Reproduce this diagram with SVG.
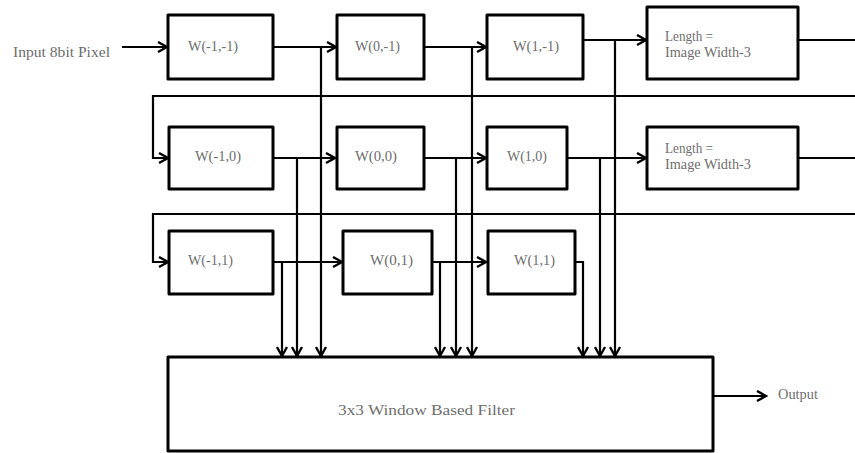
<svg xmlns="http://www.w3.org/2000/svg" width="855" height="453" viewBox="0 0 855 453">
<style>
.box{fill:#fff;stroke:#000;stroke-width:3;stroke-linejoin:round}
.ln{fill:none;stroke:#000;stroke-width:2.2}
.t{font-family:"Liberation Serif",serif;font-size:14px;fill:#6e6e6e}
</style>
<defs>
<marker id="ah" markerUnits="userSpaceOnUse" markerWidth="13" markerHeight="13" viewBox="0 0 13 13" refX="11" refY="6.5" orient="auto">
<path d="M2,1.5 L11,6.5 L2,11.5" fill="none" stroke="#000" stroke-width="2.4"/>
</marker>
</defs>
<rect width="855" height="453" fill="#fff"/>
<g id="connectors" class="ln">
<path d="M122,47 H167" marker-end="url(#ah)"/>
<path d="M273,47 H336" marker-end="url(#ah)"/>
<path d="M424,47 H486" marker-end="url(#ah)"/>
<path d="M583,40 H646" marker-end="url(#ah)"/>
<path d="M798,40 H855"/>
<path d="M855,96 H153 V158 H168" marker-end="url(#ah)"/>
<path d="M273,158 H335" marker-end="url(#ah)"/>
<path d="M424,158 H486" marker-end="url(#ah)"/>
<path d="M567,158 H646" marker-end="url(#ah)"/>
<path d="M798,158 H855"/>
<path d="M855,214 H153 V262 H168" marker-end="url(#ah)"/>
<path d="M273,262 H342" marker-end="url(#ah)"/>
<path d="M432,262 H486" marker-end="url(#ah)"/>
<path d="M321,47 V356" marker-end="url(#ah)"/>
<path d="M472,47 V356" marker-end="url(#ah)"/>
<path d="M615,40 V356" marker-end="url(#ah)"/>
<path d="M297,158 V356" marker-end="url(#ah)"/>
<path d="M456,158 V356" marker-end="url(#ah)"/>
<path d="M600,158 V356" marker-end="url(#ah)"/>
<path d="M282,262 V356" marker-end="url(#ah)"/>
<path d="M440,262 V356" marker-end="url(#ah)"/>
<path d="M575,262 H583 V356" marker-end="url(#ah)"/>
<path d="M703,396 H766" marker-end="url(#ah)"/>
</g>
<text class="t" x="13" y="57" textLength="97" lengthAdjust="spacingAndGlyphs">Input 8bit Pixel</text>
<g id="w_m1_m1"><rect class="box" x="168" y="15" width="105" height="64"/><text class="t" x="188" y="51" textLength="50" lengthAdjust="spacingAndGlyphs">W(-1,-1)</text></g>
<g id="w_0_m1"><rect class="box" x="337" y="15" width="87" height="64"/><text class="t" x="355" y="51" textLength="45" lengthAdjust="spacingAndGlyphs">W(0,-1)</text></g>
<g id="w_1_m1"><rect class="box" x="487" y="15" width="96" height="64"/><text class="t" x="513" y="51" textLength="46" lengthAdjust="spacingAndGlyphs">W(1,-1)</text></g>
<g id="len1"><rect class="box" x="647" y="7" width="151" height="72"/><text class="t" x="665" y="41" textLength="48" lengthAdjust="spacingAndGlyphs">Length =</text><text class="t" x="665" y="57" textLength="86" lengthAdjust="spacingAndGlyphs">Image Width-3</text></g>
<g id="w_m1_0"><rect class="box" x="169" y="127" width="104" height="62"/><text class="t" x="195" y="161" textLength="46" lengthAdjust="spacingAndGlyphs">W(-1,0)</text></g>
<g id="w_0_0"><rect class="box" x="337" y="127" width="87" height="62"/><text class="t" x="355" y="161" textLength="42" lengthAdjust="spacingAndGlyphs">W(0,0)</text></g>
<g id="w_1_0"><rect class="box" x="487" y="127" width="80" height="62"/><text class="t" x="507" y="161" textLength="40" lengthAdjust="spacingAndGlyphs">W(1,0)</text></g>
<g id="len2"><rect class="box" x="647" y="127" width="151" height="62"/><text class="t" x="665" y="153" textLength="48" lengthAdjust="spacingAndGlyphs">Length =</text><text class="t" x="665" y="169" textLength="86" lengthAdjust="spacingAndGlyphs">Image Width-3</text></g>
<g id="w_m1_1"><rect class="box" x="169" y="231" width="104" height="63"/><text class="t" x="188" y="265" textLength="45" lengthAdjust="spacingAndGlyphs">W(-1,1)</text></g>
<g id="w_0_1"><rect class="box" x="343" y="231" width="89" height="63"/><text class="t" x="370" y="265" textLength="43" lengthAdjust="spacingAndGlyphs">W(0,1)</text></g>
<g id="w_1_1"><rect class="box" x="488" y="231" width="87" height="63"/><text class="t" x="514" y="265" textLength="41" lengthAdjust="spacingAndGlyphs">W(1,1)</text></g>
<g id="filter"><rect class="box" x="168" y="357" width="545" height="94"/><text class="t" x="338" y="415" font-size="16.5" textLength="177" lengthAdjust="spacingAndGlyphs">3x3 Window Based Filter</text></g>
<text class="t" x="778" y="399" textLength="40" lengthAdjust="spacingAndGlyphs">Output</text>
</svg>
